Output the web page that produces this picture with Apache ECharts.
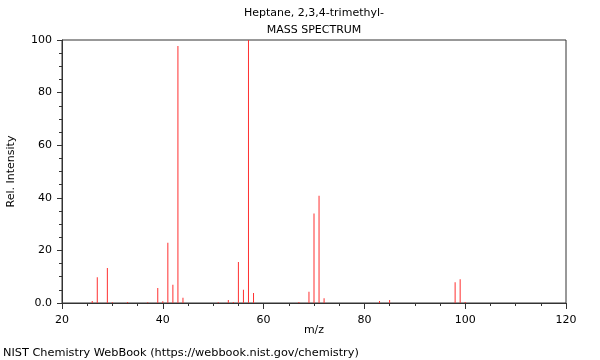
<!DOCTYPE html>
<html>
<head>
<meta charset="utf-8">
<title>Heptane, 2,3,4-trimethyl- mass spectrum</title>
<script src="https://cdn.jsdelivr.net/npm/echarts@6/dist/echarts.min.js"></script>
<style>
  html, body { margin: 0; padding: 0; background: #fff; }
  #chart { width: 600px; height: 360px; }
</style>
</head>
<body>
<div id="chart"></div>
<script>
// m/z values and relative intensities
var mz = [26, 27, 29, 30, 33, 37, 39, 40, 41, 42, 43, 44, 51, 53, 54, 55, 56, 57, 58,
          67, 69, 70, 71, 72, 83, 85, 98, 99, 100];
var intensity = [0.8, 9.8, 13.3, 0.3, 0.4, 0.3, 5.7, 0.7, 22.9, 6.9, 97.7, 2.0, 0.3, 1.1, 0.4, 15.6, 5.0, 100, 3.8,
                 0.4, 4.3, 34.0, 40.8, 1.8, 0.8, 1.1, 7.9, 9.0, 0.4];
var xTicks = [20, 40, 60, 80, 100, 120];
var yTicks = [0, 20, 40, 60, 80, 100];

var font = 'DejaVu Sans';
var axisColor = '#333';

var peaks = [];
for (var i = 0; i < mz.length; i++) {
    peaks.push([mz[i], intensity[i]]);
}

var chart = echarts.init(document.getElementById('chart'));

var option = {
    animation: false,
    backgroundColor: '#fff',
    textStyle: { fontFamily: font },
    grid: {
        left: 62, right: 34, top: 40, bottom: 57,
        outerBoundsMode: 'none',
        containLabel: false,
        show: true, borderColor: axisColor, borderWidth: 1
    },
    graphic: [
        { type: 'text', x: 314, y: 13,
          style: { text: 'Heptane, 2,3,4-trimethyl-', font: '11px "DejaVu Sans"', fill: '#000', align: 'center', verticalAlign: 'middle' } },
        { type: 'text', x: 314, y: 30,
          style: { text: 'MASS SPECTRUM', font: '11px "DejaVu Sans"', fill: '#000', align: 'center', verticalAlign: 'middle' } },
        { type: 'text', x: 3, y: 353,
          style: { text: 'NIST Chemistry WebBook (https://webbook.nist.gov/chemistry)', font: '11.3px "DejaVu Sans"', fill: '#000', align: 'left', verticalAlign: 'middle' } }
    ],
    xAxis: {
        type: 'value',
        min: xTicks[0], max: xTicks[xTicks.length - 1], interval: 20,
        name: 'm/z', nameLocation: 'middle', nameGap: 22,
        nameMoveOverlap: false,
        nameTextStyle: { fontSize: 11, color: '#000', fontFamily: font },
        axisLine: { lineStyle: { color: axisColor } },
        axisTick: { length: 6, lineStyle: { color: axisColor } },
        minorTick: { show: true, splitNumber: 4, length: 3, lineStyle: { color: axisColor } },
        axisLabel: { fontSize: 11, color: '#000', margin: 12 },
        splitLine: { show: false }
    },
    yAxis: {
        type: 'value',
        min: yTicks[0], max: yTicks[yTicks.length - 1], interval: 20,
        name: 'Rel. Intensity', nameLocation: 'middle', nameGap: 45,
        nameMoveOverlap: false,
        nameTextStyle: { fontSize: 11, color: '#000', fontFamily: font },
        axisLine: { show: true, lineStyle: { color: axisColor } },
        axisTick: { show: true, length: 5, lineStyle: { color: axisColor } },
        minorTick: { show: true, splitNumber: 4, length: 3, lineStyle: { color: axisColor } },
        axisLabel: {
            fontSize: 11, color: '#000', margin: 10,
            formatter: function (v) { return v === 0 ? '0.0' : String(v); }
        },
        splitLine: { show: false }
    },
    series: [{
        type: 'bar',
        data: peaks,
        barWidth: 1,
        itemStyle: { color: '#ff3030' },
        silent: true
    }]
};

chart.setOption(option);
</script>
</body>
</html>
